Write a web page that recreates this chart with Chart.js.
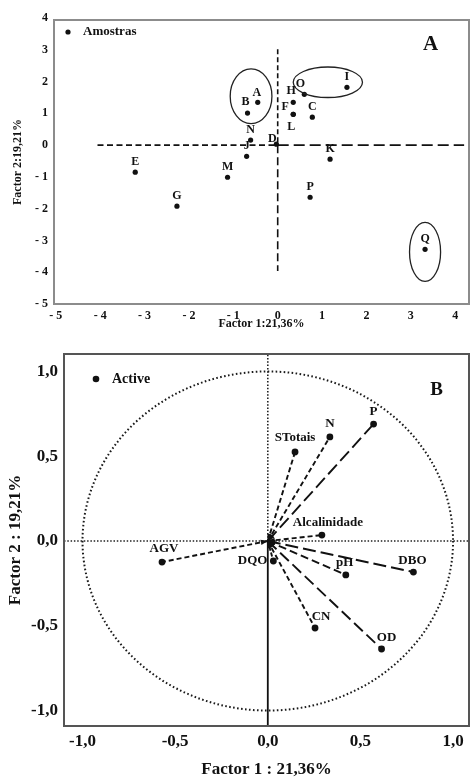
<!DOCTYPE html>
<html><head><meta charset="utf-8">
<script src="https://cdn.jsdelivr.net/npm/chart.js@4.4.1/dist/chart.umd.min.js"></script>
<style>
html,body{margin:0;padding:0;background:#fff;overflow:hidden;}
#wa{position:absolute;left:0;top:0;width:473px;height:330px;}
#wb{position:absolute;left:0;top:330px;width:473px;height:448px;}
</style></head><body>
<div id="wa"><canvas id="ca"></canvas></div>
<div id="wb"><canvas id="cb"></canvas></div>
<script>
// ---------- Panel A : samples ----------
const sampleNames   = ['A','B','C','D','E','F','G','H','I','J','K','L','M','N','O','P','Q'];
const sampleFactor1 = [-0.45,-0.68,0.78,-0.03,-3.21,0.35,-2.27,0.35,1.56,-0.70,1.18,0.35,-1.13,-0.61,0.60,0.73,3.32];
const sampleFactor2 = [1.35,1.01,0.88,0.03,-0.85,0.97,-1.92,1.35,1.82,-0.35,-0.44,0.97,-1.01,0.16,1.60,-1.64,-3.28];
const ticksA = [-5,-4,-3,-2,-1,0,1,2,3,4];
const rangeAF1 = [-5.04, 4.31];
const rangeAF2 = [-5, 3.94];
const crossAF1 = [-4.06, 4.2];
const crossAF2 = [3.02, -3.96];
// circled groups (centre and half-axes in factor units)
const groupF1  = [-0.60, 1.13, 3.32];
const groupF2  = [1.54, 1.98, -3.36];
const groupRF1 = [0.47, 0.78, 0.35];
const groupRF2 = [0.86, 0.48, 0.93];

// ---------- Panel B : variables ----------
const varNames   = ['P','N','STotais','Alcalinidade','AGV','DQO','pH','DBO','CN','OD'];
const varFactor1 = [0.571,0.335,0.147,0.292,-0.571,0.030,0.421,0.786,0.255,0.614];
const varFactor2 = [0.690,0.614,0.525,0.035,-0.124,-0.118,-0.200,-0.183,-0.513,-0.637];
const ticksB = [-1,-0.5,0,0.5,1];
const rangeBF1 = [-1.10, 1.086];
const rangeBF2 = [-1.091, 1.103];
const circleRadius = 1;

// ---------- styles ----------
const FONT = "'Liberation Serif','Times New Roman',serif";
const INK = '#111';
const labelOffsetA = {A:[-1,-9],B:[-2,-11],D:[-4,-5],F:[-8,-7],H:[-2,-11],L:[-2,13],O:[-4,-10]};
const labelOffsetB = {P:[0,-12],N:[0,-13],STotais:[0,-14],Alcalinidade:[6,-12],AGV:[2,-13],DQO:[-6,0,'right'],pH:[-1,-12],DBO:[-1,-11],CN:[6,-11],OD:[5,-11]};
const dashB = {P:[13,5],N:[5,3],STotais:[5,3],Alcalinidade:[5,3],AGV:[5,3],DQO:[4,2],pH:[8,4],DBO:[13,5],CN:[5,3],OD:[12,5]};

function fmtA(v){ return v < 0 ? '- ' + (-v) : String(v); }
function fmtB(v){ return (Math.abs(v) < 1e-9 ? 0 : v).toFixed(1).replace('.', ','); }
function seg(x1,y1,x2,y2,dash,width,color){
  return {type:'scatter', data:[{x:x1,y:y1},{x:x2,y:y2}], showLine:true, pointRadius:0,
    borderColor:color||INK, borderWidth:width||1.6, borderDash:dash, fill:false, borderCapStyle:'butt'};
}
function setTicks(list){ return function(s){ s.ticks = list.map(v => ({value:v})); }; }

// ---------- Panel A chart ----------
const pluginA = {
  id:'pluginA',
  afterDatasetsDraw(chart){
    const {ctx, chartArea:ca, scales:{x, y}} = chart;
    ctx.save();
    ctx.strokeStyle = '#222'; ctx.lineWidth = 1.3;
    groupF1.forEach((c, i) => {
      const px = x.getPixelForValue(c), py = y.getPixelForValue(groupF2[i]);
      const rx = Math.abs(x.getPixelForValue(c + groupRF1[i]) - px);
      const ry = Math.abs(y.getPixelForValue(groupF2[i] + groupRF2[i]) - py);
      ctx.beginPath(); ctx.ellipse(px, py, rx, ry, 0, 0, Math.PI*2); ctx.stroke();
    });
    ctx.font = 'bold 12px ' + FONT; ctx.fillStyle = INK;
    ctx.textAlign = 'center'; ctx.textBaseline = 'middle';
    sampleNames.forEach((n, i) => {
      const o = labelOffsetA[n] || [0,-10];
      ctx.fillText(n, x.getPixelForValue(sampleFactor1[i]) + o[0], y.getPixelForValue(sampleFactor2[i]) + o[1]);
    });
    // frame
    ctx.strokeStyle = '#8c8c8c'; ctx.lineWidth = 2;
    ctx.strokeRect(ca.left, ca.top, ca.right - ca.left, ca.bottom - ca.top);
    // legend
    ctx.beginPath(); ctx.arc(ca.left + 14, ca.top + 12, 2.6, 0, Math.PI*2); ctx.fill();
    ctx.font = 'bold 13px ' + FONT; ctx.textAlign = 'left';
    ctx.fillText(chart.data.datasets[0].label, ca.left + 29, ca.top + 12);
    // panel letter
    ctx.font = 'bold 21px ' + FONT; ctx.textAlign = 'center';
    ctx.fillText('A', ca.right - 38.5, ca.top + 24.5);
    ctx.restore();
  }
};

new Chart(document.getElementById('ca'), {
  type:'scatter',
  data:{ datasets:[
    {label:'Amostras', data: sampleNames.map((n,i) => ({x:sampleFactor1[i], y:sampleFactor2[i]})),
     pointRadius:2.6, pointBackgroundColor:INK, pointBorderWidth:0},
    seg(crossAF1[0],0,0,0,[6,3.5]),
    seg(0,0,crossAF1[1],0,[11,5]),
    seg(0,crossAF2[0],0,0,[5,3]),
    seg(0,0,0,crossAF2[1],[8,4])
  ]},
  options:{
    animation:false, responsive:true, maintainAspectRatio:false, devicePixelRatio:1,
    layout:{padding:{top:20,right:1,left:0,bottom:0}},
    plugins:{legend:{display:false}, tooltip:{enabled:false}},
    scales:{
      x:{type:'linear', min:rangeAF1[0], max:rangeAF1[1], bounds:'data',
        grid:{display:false, drawTicks:false}, border:{display:false},
        afterBuildTicks:setTicks(ticksA), afterFit(s){ s.height = 26; },
        ticks:{autoSkip:false, maxRotation:0, padding:5, color:INK, font:{family:FONT, size:12, weight:'bold'}, callback:fmtA},
        title:{display:true, text:'Factor 1:21,36%', color:INK, padding:{top:0,bottom:0}, font:{family:FONT, size:12, weight:'bold', lineHeight:1}}
      },
      y:{type:'linear', min:rangeAF2[0], max:rangeAF2[1], bounds:'data',
        grid:{display:false, drawTicks:false}, border:{display:false},
        afterBuildTicks:setTicks(ticksA), afterFit(s){ s.width = 54; },
        ticks:{autoSkip:false, padding:6, color:INK, font:{family:FONT, size:12, weight:'bold'}, callback:fmtA},
        title:{display:true, text:'Factor 2:19,21%', color:INK, padding:{top:11,bottom:0}, font:{family:FONT, size:12, weight:'bold'}}
      }
    }
  },
  plugins:[pluginA]
});

// ---------- Panel B chart ----------
const pluginB = {
  id:'pluginB',
  beforeDatasetsDraw(chart){
    const {ctx, scales:{x, y}} = chart;
    const x0 = x.getPixelForValue(0), y0 = y.getPixelForValue(0);
    const rx = x.getPixelForValue(circleRadius) - x0, ry = y0 - y.getPixelForValue(circleRadius);
    ctx.save();
    ctx.strokeStyle = '#1a1a1a'; ctx.lineWidth = 2; ctx.setLineDash([1.6, 2.4]);
    ctx.beginPath(); ctx.ellipse(x0, y0, rx, ry, 0, 0, Math.PI*2); ctx.stroke();
    ctx.restore();
  },
  afterDatasetsDraw(chart){
    const {ctx, chartArea:ca, scales:{x, y}} = chart;
    const x0 = x.getPixelForValue(0), y0 = y.getPixelForValue(0);
    ctx.save();
    ctx.fillStyle = INK;
    // arrow heads at the origin
    varNames.forEach((n, i) => {
      const px = x.getPixelForValue(varFactor1[i]), py = y.getPixelForValue(varFactor2[i]);
      const a = Math.atan2(py - y0, px - x0), L = 7, W = 2.6;
      const bx = x0 + Math.cos(a)*L, by = y0 + Math.sin(a)*L;
      ctx.beginPath(); ctx.moveTo(x0, y0);
      ctx.lineTo(bx - Math.sin(a)*W, by + Math.cos(a)*W);
      ctx.lineTo(bx + Math.sin(a)*W, by - Math.cos(a)*W);
      ctx.closePath(); ctx.fill();
    });
    ctx.font = 'bold 13px ' + FONT; ctx.textBaseline = 'middle';
    varNames.forEach((n, i) => {
      const o = labelOffsetB[n] || [0,-12];
      ctx.textAlign = o[2] || 'center';
      ctx.fillText(n, x.getPixelForValue(varFactor1[i]) + o[0], y.getPixelForValue(varFactor2[i]) + o[1]);
    });
    // frame
    ctx.strokeStyle = '#555'; ctx.lineWidth = 2;
    ctx.strokeRect(ca.left, ca.top, ca.right - ca.left, ca.bottom - ca.top);
    // legend
    ctx.beginPath(); ctx.arc(ca.left + 32, ca.top + 25, 3.3, 0, Math.PI*2); ctx.fill();
    ctx.font = 'bold 14px ' + FONT; ctx.textAlign = 'left';
    ctx.fillText(chart.data.datasets[0].label, ca.left + 48, ca.top + 25);
    // panel letter
    ctx.font = 'bold 19px ' + FONT; ctx.textAlign = 'center';
    ctx.fillText('B', ca.right - 32.5, ca.top + 36);
    ctx.restore();
  }
};

const vecSets = varNames.map((n, i) => seg(0, 0, varFactor1[i], varFactor2[i], dashB[n], 1.9));
new Chart(document.getElementById('cb'), {
  type:'scatter',
  data:{ datasets:[
    {label:'Active', data: varNames.map((n,i) => ({x:varFactor1[i], y:varFactor2[i]})),
     pointRadius:3.4, pointBackgroundColor:INK, pointBorderWidth:0},
    ...vecSets,
    seg(rangeBF1[0],0,rangeBF1[1],0,[1.5,1.8],1.6,'#222'),
    seg(0,0,0,rangeBF2[1],[1.5,1.8],1.6,'#222'),
    seg(0,0,0,rangeBF2[0],[],1.8,'#111')
  ]},
  options:{
    animation:false, responsive:true, maintainAspectRatio:false, devicePixelRatio:1,
    layout:{padding:{top:24,right:1,left:0,bottom:0}},
    plugins:{legend:{display:false}, tooltip:{enabled:false}},
    scales:{
      x:{type:'linear', min:rangeBF1[0], max:rangeBF1[1], bounds:'data',
        grid:{display:false, drawTicks:false}, border:{display:false},
        afterBuildTicks:setTicks(ticksB), afterFit(s){ s.height = 52; },
        ticks:{autoSkip:false, maxRotation:0, padding:5, color:INK, font:{family:FONT, size:17, weight:'bold'}, callback:fmtB},
        title:{display:true, text:'Factor 1 : 21,36%', color:INK, padding:{top:0,bottom:0}, font:{family:FONT, size:17, weight:'bold', lineHeight:1}}
      },
      y:{type:'linear', min:rangeBF2[0], max:rangeBF2[1], bounds:'data',
        grid:{display:false, drawTicks:false}, border:{display:false},
        afterBuildTicks:setTicks(ticksB), afterFit(s){ s.width = 64; },
        ticks:{autoSkip:false, padding:6, color:INK, font:{family:FONT, size:17, weight:'bold'}, callback:fmtB},
        title:{display:true, text:'Factor 2 : 19,21%', color:INK, padding:{top:5,bottom:0}, font:{family:FONT, size:17, weight:'bold'}}
      }
    }
  },
  plugins:[pluginB]
});
</script>
</body></html>
